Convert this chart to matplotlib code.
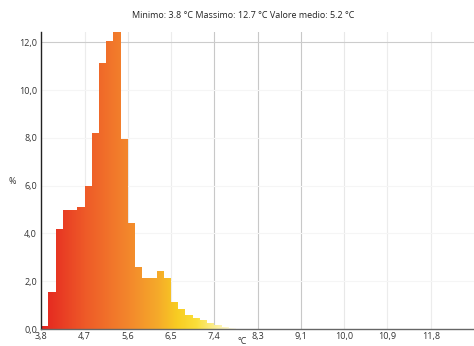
import numpy as np
import matplotlib
matplotlib.use("Agg")
import matplotlib.pyplot as plt
from matplotlib.colors import LinearSegmentedColormap
from matplotlib.path import Path
from matplotlib.patches import PathPatch
from decimal import Decimal, ROUND_HALF_UP

plt.rcParams['font.family'] = ['Open Sans', 'DejaVu Sans']

# histogram of temperatures, 60 equal bins between min and max (only non-empty ones listed)
t_min, t_max, n_bins = 3.8, 12.7, 60
t_mean = 5.2
percent = [0.12, 1.56, 4.2, 4.97, 4.97, 5.1, 5.98, 8.19, 11.14, 12.06, 12.44, 7.96,
           4.43, 2.6, 2.12, 2.12, 2.44, 2.12, 1.14, 0.84, 0.59, 0.48, 0.38, 0.26,
           0.15, 0.08, 0.03]
y_ticks = [0, 2, 4, 6, 8, 10, 12]
# shade of each vertical grid line (one per x tick after the first)
vgrid_col = ['#ececec', '#e8e8e8', '#ececec', '#c8c8c8', '#c8c8c8', '#c8c8c8',
             '#e8e8e8', '#ececec', '#ececec']

# colour ramp along the temperature axis
ramp_pos = [3.8, 4.7, 5.6, 6.2, 6.6, 7.0, 7.4, 7.8]
ramp_col = ['#e42320', '#ee5a28', '#f3872c', '#f5aa2a', '#f8cc22', '#fadf3a', '#fcef98', '#fffdf0']


def fmt(v):
    d = Decimal(str(round(float(v), 6))).quantize(Decimal('0.1'), rounding=ROUND_HALF_UP)
    return str(d).replace('.', ',')


width = (t_max - t_min) / n_bins
left = t_min + width * np.arange(len(percent))
x_ticks = t_min + (t_max - t_min) / 10 * np.arange(10)

fig = plt.figure(figsize=(4.74, 3.46), dpi=100)
ax = fig.add_axes([0.087, 0.049, 0.913, 0.859])

bars = ax.bar(left, percent, width=width, align='edge', color='none', edgecolor='none', zorder=2)
paths = [b.get_path().transformed(b.get_patch_transform()) for b in bars]
clip = PathPatch(Path.make_compound_path(*paths), transform=ax.transData,
                 facecolor='none', edgecolor='none')
ax.add_patch(clip)

stops = [(p - ramp_pos[0]) / (ramp_pos[-1] - ramp_pos[0]) for p in ramp_pos]
cmap = LinearSegmentedColormap.from_list('temp', list(zip(stops, ramp_col)))
grad = np.linspace(0, 1, 400).reshape(1, -1)
im = ax.imshow(grad, cmap=cmap, aspect='auto', extent=(ramp_pos[0], ramp_pos[-1], 0, max(percent)),
               origin='lower', zorder=2, interpolation='bilinear')
im.set_clip_path(clip)

ax.set_xlim(t_min, t_max)
ax.set_ylim(0, max(percent))

ax.set_xticks(x_ticks)
ax.set_xticklabels([fmt(v) for v in x_ticks])
ax.set_yticks(y_ticks)
ax.set_yticklabels([fmt(v) for v in y_ticks])
ax.tick_params(length=0, labelsize=6.5, colors='#333333', pad=3)
ax.tick_params(axis='x', pad=2)

for x, c in zip(x_ticks[1:], vgrid_col):
    ax.axvline(x, color=c, lw=0.8, zorder=1)
for y in y_ticks[1:-1]:
    ax.axhline(y, color='#f5f5f5', lw=0.8, zorder=1)
ax.axhline(12, color='#cccccc', lw=0.8, zorder=1)

for s in ['top', 'right']:
    ax.spines[s].set_visible(False)
ax.spines['left'].set_color('#222222')
ax.spines['left'].set_linewidth(1.0)
ax.spines['bottom'].set_color('#666666')
ax.spines['bottom'].set_linewidth(1.0)

fig.text(12 / 474, 1 - 181 / 346, '%', fontsize=6.5, ha='center', va='center', color='#333333')
fig.text(242 / 474, 1 - 342 / 346, '°C', fontsize=6.5, ha='center', va='center', color='#333333')
fig.text(243 / 474, 1 - 16 / 346,
         f"Minimo: {t_min} °C Massimo: {t_max} °C Valore medio: {t_mean} °C",
         fontsize=6.5, ha='center', va='center', color='#222222')

fig.savefig('out.png', dpi=100)
